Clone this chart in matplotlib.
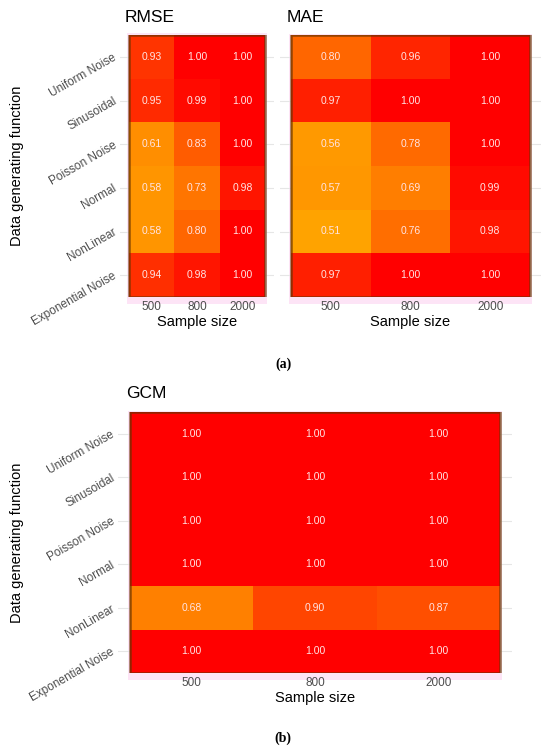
import numpy as np
import matplotlib
matplotlib.use("Agg")
import matplotlib.pyplot as plt
from matplotlib.colors import LinearSegmentedColormap, Normalize
from matplotlib.patches import Rectangle

plt.rcParams['font.family'] = ['Liberation Sans', 'DejaVu Sans']

# data
functions = ['Uniform Noise', 'Sinusoidal', 'Poisson Noise', 'Normal', 'NonLinear', 'Exponential Noise']
sizes = ['500', '800', '2000']

rmse = [[0.93, 1.00, 1.00],
        [0.95, 0.99, 1.00],
        [0.61, 0.83, 1.00],
        [0.58, 0.73, 0.98],
        [0.58, 0.80, 1.00],
        [0.94, 0.98, 1.00]]

mae = [[0.80, 0.96, 1.00],
       [0.97, 1.00, 1.00],
       [0.56, 0.78, 1.00],
       [0.57, 0.69, 0.99],
       [0.51, 0.76, 0.98],
       [0.97, 1.00, 1.00]]

gcm = [[1.00, 1.00, 1.00],
       [1.00, 1.00, 1.00],
       [1.00, 1.00, 1.00],
       [1.00, 1.00, 1.00],
       [0.68, 0.90, 0.87],
       [1.00, 1.00, 1.00]]

# orange -> red, roughly like ggplot's Lab gradient
cmap = LinearSegmentedColormap.from_list('orred', [
    (0.0, '#ffa500'), (0.36, '#ff8000'), (0.6, '#ff6600'),
    (0.8, '#ff4500'), (0.94, '#ff2000'), (1.0, '#ff0000')])
norm = Normalize(0.5, 1.0)

W, H = 550, 749
fig = plt.figure(figsize=(W / 100, H / 100), dpi=100)

def px_axes(x0, y0, x1, y1):
    return fig.add_axes([x0 / W, 1 - y1 / H, (x1 - x0) / W, (y1 - y0) / H])

def heat(x0, y0, x1, y1, vals, title, show_y, pad=12):
    # axes a bit wider than tiles so the grid lines peek out
    ax = px_axes(x0 - pad, y0, x1 + pad, y1)
    colw = (x1 - x0) / 3.0
    p = pad / colw
    ax.set_xlim(-0.5 - p, 2.5 + p)
    ax.set_ylim(5.5, -0.5)
    ax.patch.set_alpha(0)
    for s in ax.spines.values():
        s.set_visible(False)
    # pink background
    ph = 7 / ((y1 - y0) / 6.0)
    pw = 2 / colw
    ax.add_patch(Rectangle((-0.5 - pw, -0.5 - pw), 3 + 2 * pw, 6 + pw + ph,
                           facecolor='#fde4f6', edgecolor='none', zorder=0, clip_on=False))
    ax.set_yticks(range(len(functions)))
    ax.set_xticks(range(len(sizes)))
    ax.grid(axis='y', color='#e6e6e6', lw=0.8, zorder=0.5)
    ax.set_axisbelow(True)
    arr = np.array(vals)
    ax.pcolormesh(np.arange(4) - 0.5, np.arange(7) - 0.5, arr, cmap=cmap, norm=norm, zorder=1)
    ax.add_patch(Rectangle((-0.5, -0.5), 3, 6, facecolor='none',
                           edgecolor=(0.4, 0.2, 0.0, 0.7), lw=1.8, zorder=2))
    for i in range(arr.shape[0]):
        for j in range(arr.shape[1]):
            ax.text(j, i, f'{arr[i, j]:.2f}', ha='center', va='center',
                    fontsize=7.5, color='#ffe4e4', zorder=3)
    ax.tick_params(length=0, labelsize=8.5, labelcolor='#4d4d4d', pad=3)
    ax.set_xticklabels(sizes)
    if show_y:
        ax.set_yticklabels(functions, rotation=30, ha='right', va='center',
                           rotation_mode='anchor')
    else:
        ax.set_yticklabels([])
    ax.set_xlabel('Sample size', fontsize=10.5, labelpad=1)
    fig.text((x0 - 4) / W, 1 - (y0 - 18) / H, title, fontsize=12.5, ha='left', va='center')
    return ax

heat(129, 35, 265, 297, rmse, 'RMSE', True, pad=9)
heat(291, 35, 530, 297, mae, 'MAE', False, pad=11)
heat(130, 412, 500, 673, gcm, 'GCM', True, pad=12)

fig.text(17 / W, 1 - 166 / H, 'Data generating function', rotation=90,
         ha='center', va='center', fontsize=10.5)
fig.text(17 / W, 1 - 543 / H, 'Data generating function', rotation=90,
         ha='center', va='center', fontsize=10.5)

fig.text(283 / W, 1 - 364 / H, '(a)', fontsize=10, fontweight='bold',
         family=['Liberation Serif', 'DejaVu Serif'], ha='center', va='center')
fig.text(283 / W, 1 - 738 / H, '(b)', fontsize=10, fontweight='bold',
         family=['Liberation Serif', 'DejaVu Serif'], ha='center', va='center')

fig.savefig('out.png', dpi=100)
